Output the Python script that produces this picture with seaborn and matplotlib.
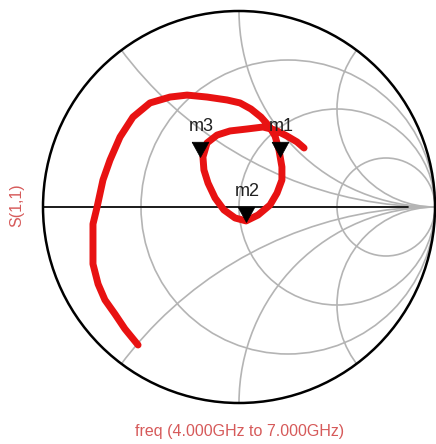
import numpy as np
import pandas as pd
import matplotlib
matplotlib.use("Agg")
import matplotlib.pyplot as plt
from matplotlib.patches import Circle
import seaborn as sns

# ---- data: S(1,1) trace, 4 GHz -> 7 GHz (reflection coefficient, real / imag) ----
s11_re = [-0.515, -0.582, -0.633, -0.684, -0.719, -0.745, -0.745, -0.745, -0.724,
          -0.694, -0.658, -0.607, -0.541, -0.454, -0.352, -0.265, -0.163, -0.061,
          0.005, 0.061, 0.112, 0.153, 0.184, 0.204, 0.219, 0.219, 0.194, 0.158,
          0.097, 0.036, -0.020, -0.077, -0.122, -0.158, -0.179, -0.184, -0.163,
          -0.112, -0.046, 0.041, 0.122, 0.184, 0.245, 0.296, 0.332]
s11_im = [-0.704, -0.622, -0.546, -0.474, -0.393, -0.291, -0.168, -0.087, 0.000,
          0.138, 0.240, 0.357, 0.459, 0.531, 0.561, 0.571, 0.561, 0.546,
          0.531, 0.500, 0.459, 0.413, 0.362, 0.291, 0.204, 0.138, 0.071, 0.010,
          -0.041, -0.071, -0.056, -0.015, 0.046, 0.122, 0.189, 0.255, 0.327,
          0.367, 0.388, 0.398, 0.408, 0.393, 0.362, 0.332, 0.301]

marker_names = ["m1", "m2", "m3"]
marker_re = [0.209, 0.036, -0.199]
marker_im = [0.255, -0.077, 0.255]

# Smith chart grid values
r_values = [1/3, 1.0, 3.0]
x_values = [0.5, 1.0, 2.0]

y_label = "S(1,1)"
x_label = "freq (4.000GHz to 7.000GHz)"

# ---- style ----
sns.set_theme(style="white")
plt.rcParams["font.family"] = ["Liberation Sans", "DejaVu Sans"]

W, H = 436, 444
fig = plt.figure(figsize=(W / 100, H / 100), dpi=100)
lim = 1.05
cx, cy, R = 239, 207, 196  # pixel centre / radius of unit circle
ax_w = 2 * lim * R
ax = fig.add_axes([(cx - lim * R) / W, (H - cy - lim * R) / H, ax_w / W, ax_w / H])
ax.set_xlim(-lim, lim)
ax.set_ylim(-lim, lim)
ax.axis("off")

grid_col = "#b4b4b4"
grid_lw = 1.2
clip = Circle((0, 0), 1.0, transform=ax.transData, facecolor="none", edgecolor="none")
ax.add_patch(clip)

for r in r_values:
    c = Circle((r / (1 + r), 0), 1 / (1 + r), fill=False, ec=grid_col, lw=grid_lw, zorder=1)
    ax.add_patch(c)
    c.set_clip_path(clip)
for xv in x_values:
    for sgn in (1, -1):
        c = Circle((1, sgn / xv), 1 / xv, fill=False, ec=grid_col, lw=grid_lw, zorder=1)
        ax.add_patch(c)
        c.set_clip_path(clip)

# real axis
ax.plot([-1, 1], [0, 0], color=grid_col, lw=grid_lw, zorder=1)
ax.plot([-1, 0.86], [0, 0], color="black", lw=1.2, zorder=2)
# outer boundary
ax.add_patch(Circle((0, 0), 1.0, fill=False, ec="black", lw=1.8, zorder=3, clip_on=False))

# trace
trace = pd.DataFrame({"re": s11_re, "im": s11_im})
sns.lineplot(data=trace, x="re", y="im", sort=False, estimator=None, ax=ax,
             color="#e81212", lw=5.0, solid_capstyle="round", solid_joinstyle="round",
             zorder=4)

# markers (downward triangle with tip on the trace point)
tri = [(-0.55, 1.0), (0.55, 1.0), (0.0, 0.0), (-0.55, 1.0)]
mk = pd.DataFrame({"re": marker_re, "im": marker_im, "name": marker_names})
sns.scatterplot(data=mk, x="re", y="im", marker=tri, s=22 ** 2, color="black",
                edgecolor="black", linewidth=0.5, ax=ax, zorder=5, legend=False)
for _, row in mk.iterrows():
    ax.annotate(row["name"], (row["re"], row["im"]), xytext=(1, 19),
                textcoords="offset points", ha="center", va="baseline",
                fontsize=13, color="#202020", zorder=6)

ax.set_xlabel("")
ax.set_ylabel("")

txt_col = "#d65a5a"
fig.text(17 / W, 1 - 205 / H, y_label, rotation=90, ha="center", va="center",
         fontsize=11.5, color=txt_col)
fig.text(240 / W, 1 - 431 / H, x_label, ha="center", va="center",
         fontsize=11.5, color=txt_col)

fig.savefig("out.png", dpi=100, facecolor="white")
